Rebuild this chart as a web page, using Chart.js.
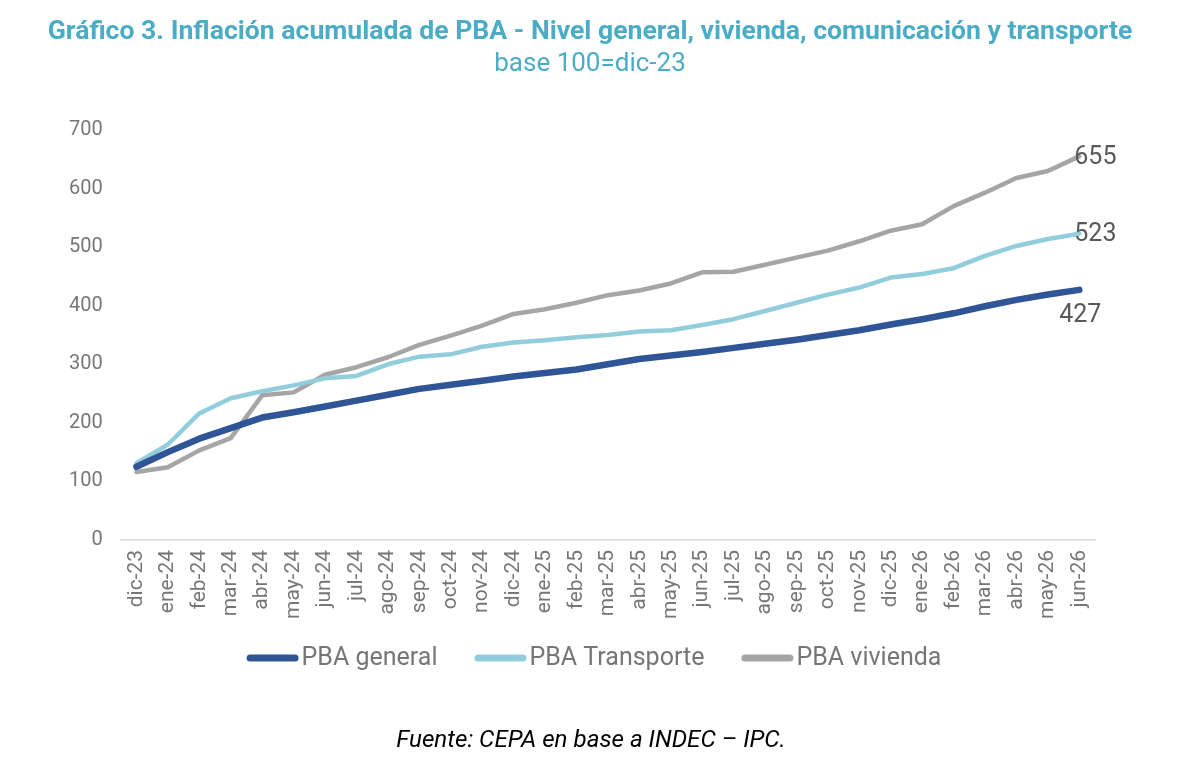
<!DOCTYPE html>
<html lang="es">
<head>
<meta charset="utf-8">
<title>Inflación acumulada de PBA</title>
<script src="https://cdn.jsdelivr.net/npm/chart.js@4.4.1/dist/chart.umd.min.js"></script>
<style>
  html, body { margin: 0; padding: 0; background: #fff; }
  #wrap { position: relative; width: 1200px; height: 782px; }
</style>
</head>
<body>
<div id="wrap"><canvas id="inflChart" width="1200" height="782"></canvas></div>
<script>
// Months, base 100 = dic-23
const labels = [
  "dic-23", "ene-24", "feb-24", "mar-24", "abr-24", "may-24", "jun-24",
  "jul-24", "ago-24", "sep-24", "oct-24", "nov-24", "dic-24", "ene-25",
  "feb-25", "mar-25", "abr-25", "may-25", "jun-25", "jul-25", "ago-25",
  "sep-25", "oct-25", "nov-25", "dic-25", "ene-26", "feb-26", "mar-26",
  "abr-26", "may-26", "jun-26",
];
const generalData = [
  125, 150, 173, 191, 209, 218, 228, 238, 248, 258, 265, 272, 279, 285,
  291, 300, 309, 315, 321, 328, 335, 342, 350, 358, 368, 377, 387, 399,
  410, 419, 427,
];
const transporteData = [
  131, 163, 216, 242, 254, 264, 276, 280, 300, 313, 317, 330, 337, 341,
  346, 350, 356, 358, 367, 377, 391, 405, 419, 431, 448, 454, 464, 485,
  502, 514, 523,
];
const viviendaData = [
  116, 124, 153, 174, 247, 252, 282, 295, 312, 333, 349, 366, 386, 394,
  405, 418, 426, 438, 457, 458, 470, 482, 494, 510, 528, 539, 570, 593,
  618, 630, 655,
];
const yTicks = [0, 100, 200, 300, 400, 500, 600, 700];

const FONT = "Roboto, 'Liberation Sans', sans-serif";
const TEXT_GRAY = "#767676";

// Titles, legend, last-value labels and source note
const extrasPlugin = {
  id: "extras",
  afterDraw(chart) {
    const ctx = chart.ctx;
    ctx.save();
    ctx.textBaseline = "middle";
    ctx.textAlign = "center";

    // title + subtitle
    ctx.fillStyle = "#4BACC6";
    ctx.font = "bold 26.6px " + FONT;
    ctx.fillText(
      "Gráfico 3. Inflación acumulada de PBA - Nivel general, vivienda, comunicación y transporte",
      590, 32
    );
    ctx.font = "26px " + FONT;
    ctx.fillText("base 100=dic-23", 590, 64);

    // values at the last month
    const offsets = [
      { dx: 1, dy: 26, align: "center" },
      { dx: -5, dy: 1, align: "left" },
      { dx: -5, dy: 1, align: "left" },
    ];
    ctx.font = "25px " + FONT;
    ctx.fillStyle = "#595959";
    chart.data.datasets.forEach((ds, i) => {
      const meta = chart.getDatasetMeta(i);
      const last = meta.data[meta.data.length - 1];
      const o = offsets[i];
      ctx.textAlign = o.align;
      ctx.fillText(String(ds.data[ds.data.length - 1]), last.x + o.dx, last.y + o.dy);
    });

    // legend
    const sampleW = 52, gapText = 3, gapItem = 37, legendY = 658;
    ctx.font = "25px " + FONT;
    const items = chart.data.datasets.map((ds) => ({
      text: ds.label,
      color: ds.borderColor,
      w: ctx.measureText(ds.label).width,
    }));
    let total = 0;
    items.forEach((it, i) => {
      total += sampleW + gapText + it.w + (i < items.length - 1 ? gapItem : 0);
    });
    let x = 594 - total / 2;
    ctx.textAlign = "left";
    ctx.lineCap = "round";
    ctx.lineWidth = 7;
    items.forEach((it) => {
      ctx.strokeStyle = it.color;
      ctx.beginPath();
      ctx.moveTo(x + 3.5, legendY);
      ctx.lineTo(x + sampleW - 3.5, legendY);
      ctx.stroke();
      ctx.fillStyle = TEXT_GRAY;
      ctx.fillText(it.text, x + sampleW + gapText, legendY + 1);
      x += sampleW + gapText + it.w + gapItem;
    });

    // source
    ctx.font = "italic 24.2px " + FONT;
    ctx.fillStyle = "#000";
    ctx.textAlign = "center";
    ctx.fillText("Fuente: CEPA en base a INDEC \u2013 IPC.", 591, 741);
    ctx.restore();
  },
};

const ctx = document.getElementById("inflChart").getContext("2d");
new Chart(ctx, {
  type: "line",
  data: {
    labels: labels,
    datasets: [
      {
        label: "PBA general",
        data: generalData,
        borderColor: "#2F5597",
        backgroundColor: "#2F5597",
        borderWidth: 6.5,
      },
      {
        label: "PBA Transporte",
        data: transporteData,
        borderColor: "#92CDDC",
        backgroundColor: "#92CDDC",
        borderWidth: 4.5,
      },
      {
        label: "PBA vivienda",
        data: viviendaData,
        borderColor: "#A5A5A5",
        backgroundColor: "#A5A5A5",
        borderWidth: 4.5,
      },
    ],
  },
  options: {
    responsive: false,
    animation: false,
    devicePixelRatio: 1,
    layout: {
      padding: { top: 130, left: 51, right: 105, bottom: 153 },
    },
    elements: {
      point: { radius: 0 },
      line: { tension: 0, borderCapStyle: "round", borderJoinStyle: "round" },
    },
    plugins: {
      legend: { display: false },
      tooltip: { enabled: false },
    },
    scales: {
      x: {
        offset: true,
        grid: { display: false, drawTicks: false },
        border: { display: true, color: "#D9D9D9", width: 1.5 },
        ticks: {
          color: TEXT_GRAY,
          font: { family: FONT, size: 21 },
          minRotation: 90,
          maxRotation: 90,
          autoSkip: false,
          padding: 10,
        },
      },
      y: {
        min: 0,
        max: 700,
        afterBuildTicks(axis) {
          axis.ticks = yTicks.map((v) => ({ value: v }));
        },
        grid: { display: false, drawTicks: false },
        border: { display: false },
        ticks: {
          color: TEXT_GRAY,
          font: { family: FONT, size: 20 },
          padding: 18,
        },
      },
    },
  },
  plugins: [extrasPlugin],
});
</script>
</body>
</html>
